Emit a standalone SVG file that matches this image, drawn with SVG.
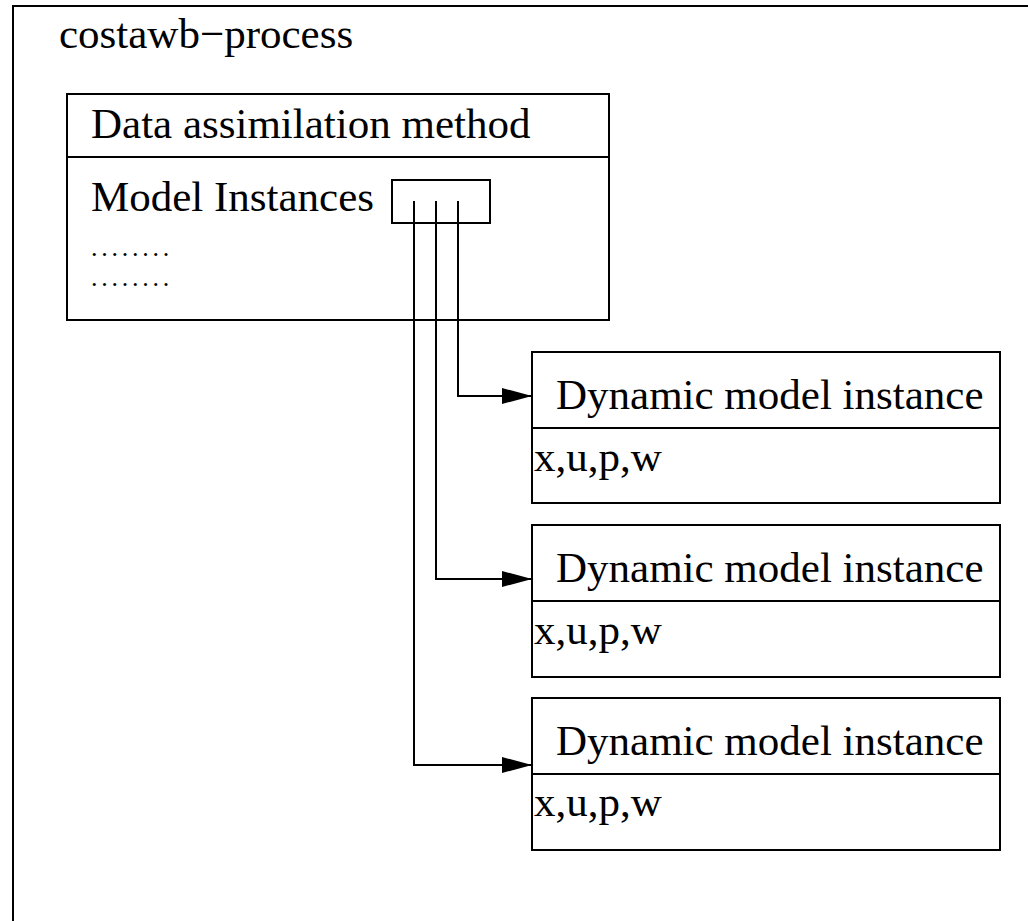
<svg xmlns="http://www.w3.org/2000/svg" width="1028" height="921" viewBox="0 0 1028 921">
<style>
  .box { fill: none; stroke: #000; stroke-width: 2; }
  .t { font-family: "Liberation Serif", "Times New Roman", serif; font-size: 43px; fill: #000; }
  .dots { font-family: "Liberation Serif", "Times New Roman", serif; font-size: 26px; letter-spacing: 3.75px; fill: #000; }
  .c { fill: none; stroke: #000; stroke-width: 2; }
</style>
<defs>
  <marker id="arr" markerWidth="30" markerHeight="16" refX="30" refY="8" orient="auto" markerUnits="userSpaceOnUse">
    <path d="M0,0 L30,8 L0,16 Z" fill="#000"/>
  </marker>
</defs>
<rect width="1028" height="921" fill="#fff"/>
<g id="process">
  <rect class="box" x="13" y="6" width="1100" height="1000"/>
  <text class="t" x="59" y="48">costawb−process</text>
</g>
<g id="da-method">
  <rect class="box" x="67" y="94" width="542" height="226"/>
  <line class="box" x1="67" y1="157" x2="609" y2="157"/>
  <text class="t" x="91" y="138">Data assimilation method</text>
  <text class="t" x="91" y="211">Model Instances</text>
  <rect class="box" x="392" y="180" width="98" height="43"/>
  <text class="dots" x="91" y="256">........</text>
  <text class="dots" x="91" y="286">........</text>
</g>
<g id="dmi1">
  <rect class="box" x="532" y="352" width="468" height="151"/>
  <line class="box" x1="532" y1="428" x2="1000" y2="428"/>
  <text class="t" x="556" y="409">Dynamic model instance</text>
  <text class="t" x="534" y="471">x,u,p,w</text>
</g>
<g id="dmi2">
  <rect class="box" x="532" y="525" width="468" height="152"/>
  <line class="box" x1="532" y1="601" x2="1000" y2="601"/>
  <text class="t" x="556" y="582">Dynamic model instance</text>
  <text class="t" x="534" y="644">x,u,p,w</text>
</g>
<g id="dmi3">
  <rect class="box" x="532" y="698" width="468" height="152"/>
  <line class="box" x1="532" y1="774" x2="1000" y2="774"/>
  <text class="t" x="556" y="755">Dynamic model instance</text>
  <text class="t" x="534" y="816">x,u,p,w</text>
</g>
<g id="connectors">
  <path class="c" d="M458,201 V396 H532" marker-end="url(#arr)"/>
  <path class="c" d="M436,201 V579 H532" marker-end="url(#arr)"/>
  <path class="c" d="M414,201 V765 H532" marker-end="url(#arr)"/>
</g>
</svg>
